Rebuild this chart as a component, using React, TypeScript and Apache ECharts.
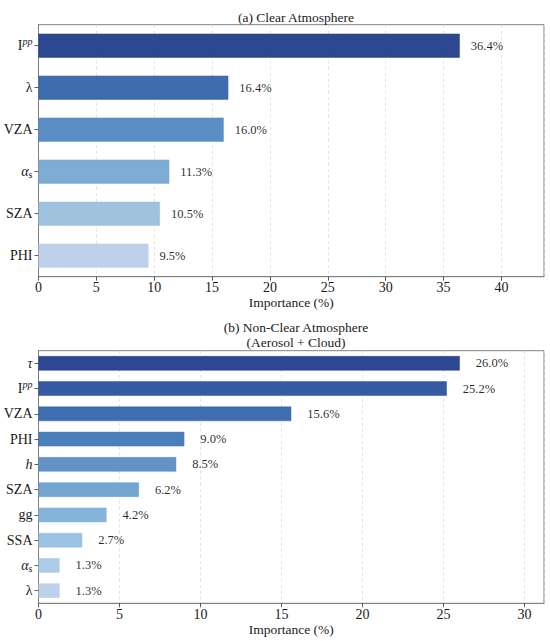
import React, { useEffect, useRef } from "react";
import * as echarts from "echarts";

const catsA = ["Ipp", "lambda", "VZA", "alpha_s", "SZA", "PHI"];
const valsA = [36.4, 16.4, 16.0, 11.3, 10.5, 9.5];
const colorsA = ["#223e8a", "#3464a9", "#5188c1", "#76a8d2", "#9bbfdd", "#bacfea"];

const catsB = ["tau", "Ipp", "VZA", "PHI", "h", "SZA", "gg", "SSA", "alpha_s", "lambda"];
const valsB = [26.0, 25.2, 15.6, 9.0, 8.5, 6.2, 4.2, 2.7, 1.3, 1.3];
const colorsB = ["#223e8a", "#2a529d", "#3466ad", "#4178b7", "#5a8ec5", "#6ca1cf", "#80b0d8", "#96bfe0", "#a8c9e6", "#bacfea"];

const xTicksA = [0, 5, 10, 15, 20, 25, 30, 35, 40];
const xTicksB = [0, 5, 10, 15, 20, 25, 30];

const titleA = "(a) Clear Atmosphere";
const titleB = "(b) Non-Clear Atmosphere\n(Aerosol + Cloud)";
const xName = "Importance (%)";

const FONT = "Liberation Serif";
const TXT = "#1a1a1a";
const FRAME = "#808080";

const labelMap: Record<string, string> = {
  Ipp: "{n|I}{sup|pp}",
  lambda: "{n|λ}",
  VZA: "{n|VZA}",
  alpha_s: "{it|α}{sub|s}",
  SZA: "{n|SZA}",
  PHI: "{n|PHI}",
  tau: "{it|τ}",
  h: "{it|h}",
  gg: "{n|gg}",
  SSA: "{n|SSA}",
};

const rich = {
  n: { fontFamily: FONT, fontSize: 14, color: TXT },
  it: { fontFamily: FONT, fontSize: 14, fontStyle: "italic", color: TXT },
  sup: { fontFamily: FONT, fontSize: 10, fontStyle: "italic", color: TXT, padding: [0, 0, 8, 0] },
  sub: { fontFamily: FONT, fontSize: 10, color: TXT, padding: [6, 0, 0, 0] },
};

export default function App() {
  const ref = useRef<HTMLDivElement>(null);
  useEffect(() => {
    document.body.style.margin = "0";
    const chart = echarts.init(ref.current!, null, { renderer: "svg" });
    const maxA = Math.max(...valsA) * 1.2;
    const maxB = Math.max(...valsB) * 1.2;
    const xAxisBase = (gridIndex: number, max: number, ticks: number[]) => ({
      type: "value",
      gridIndex,
      min: 0,
      max,
      interval: 5,
      name: xName,
      nameLocation: "middle",
      nameGap: 18,
      nameTextStyle: { fontFamily: FONT, fontSize: 13.5, color: TXT },
      axisLine: { show: true, lineStyle: { color: FRAME, width: 1 } },
      axisTick: { show: true, length: 4, lineStyle: { color: "#333", width: 0.8 } },
      axisLabel: {
        fontFamily: FONT,
        fontSize: 14,
        color: TXT,
        margin: 4,
        showMaxLabel: false,
        formatter: (v: number) => (ticks.includes(v) ? String(v) : ""),
      },
      splitLine: { show: true, lineStyle: { color: "#dcdcdc", width: 0.8, type: [3, 3] } },
    });
    const yAxisBase = (gridIndex: number, cats: string[]) => ({
      type: "category",
      gridIndex,
      data: cats,
      inverse: true,
      axisLine: { show: true, lineStyle: { color: FRAME, width: 1 } },
      axisTick: { show: true, alignWithLabel: true, length: 4, lineStyle: { color: "#333", width: 0.8 } },
      axisLabel: {
        margin: 6,
        formatter: (v: string) => labelMap[v] ?? v,
        rich,
      },
      splitLine: { show: false },
    });
    const barSeries = (idx: number, vals: number[], colors: string[], bw: number, dist: number) => ({
      type: "bar",
      xAxisIndex: idx,
      yAxisIndex: idx,
      barWidth: bw,
      data: vals.map((v, i) => ({
        value: v,
        itemStyle: { color: colors[i], borderColor: colors[i], borderWidth: 0.5, opacity: 0.95 },
      })),
      label: {
        show: true,
        position: "right",
        distance: dist,
        fontFamily: FONT,
        fontSize: 12.5,
        color: TXT,
        formatter: (p: any) => p.value.toFixed(1) + "%",
      },
    });
    chart.setOption({
      animation: false,
      backgroundColor: "#ffffff",
      title: [
        {
          text: titleA,
          left: 291,
          top: 5,
          textAlign: "center",
          textStyle: { fontFamily: FONT, fontSize: 13.5, fontWeight: "normal", color: TXT },
        },
        {
          text: titleB,
          left: 291,
          top: 315,
          textAlign: "center",
          textStyle: { fontFamily: FONT, fontSize: 13.5, fontWeight: "normal", color: TXT, lineHeight: 15 },
        },
      ],
      grid: [
        { left: 38.5, right: 6, top: 24.7, height: 252, show: true, borderColor: FRAME, borderWidth: 1, containLabel: false },
        { left: 38.5, right: 6, top: 350.7, height: 252.6, show: true, borderColor: FRAME, borderWidth: 1, containLabel: false },
      ],
      xAxis: [xAxisBase(0, maxA, xTicksA), xAxisBase(1, maxB, xTicksB)],
      yAxis: [yAxisBase(0, catsA), yAxisBase(1, catsB)],
      series: [barSeries(0, valsA, colorsA, 24, 11), barSeries(1, valsB, colorsB, 14.5, 16)],
    });
    return () => chart.dispose();
  }, []);
  return <div ref={ref} style={{ width: 550, height: 641 }} />;
}
